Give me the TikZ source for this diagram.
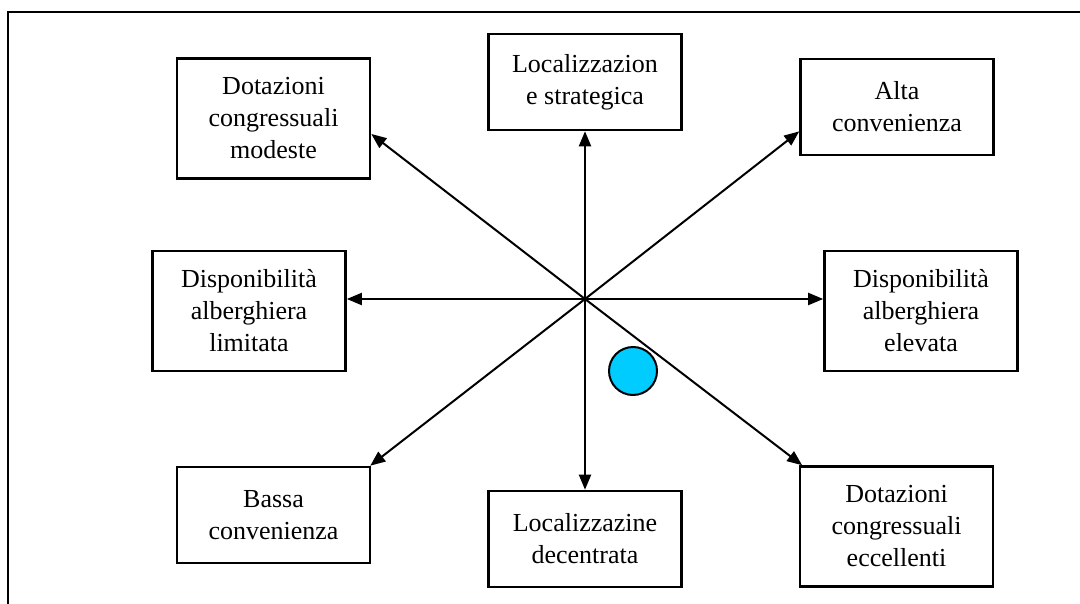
\documentclass[tikz,border=0pt]{standalone}
\usepackage{fontspec}
\setmainfont{Liberation Serif}
\usepackage{tikz}
\usepackage{xcolor}
\usetikzlibrary{arrows.meta}

\definecolor{dotblue}{RGB}{0,204,255}

\begin{document}
\begin{tikzpicture}[x=0.5pt,y=-0.5pt,->,>={Triangle[length=7.5pt,width=6pt]},line width=1pt,
                    main node/.style={rectangle,draw,line width=1.3pt,align=center,
                      minimum width=96.5pt,font=\fontsize{13}{16}\selectfont},
                    short node/.style={main node,minimum height=48pt},
                    tall node/.style={main node,minimum height=60pt}]

  \useasboundingbox (0,0) rectangle (1080,604);
  \draw[-,line width=1.3pt] (8,604) -- (8,12) -- (1080,12);

  \coordinate (c) at (585,299);
  \node[short node] (strat) at (585,82) {Localizzazion\\e strategica};
  \node[short node] (decent) at (585,539) {Localizzazine\\decentrata};
  \node[tall node] (modeste) at (273.5,118.5) {Dotazioni\\congressuali\\modeste};
  \node[short node] (alta) at (897,107) {Alta\\convenienza};
  \node[tall node] (limit) at (249,311) {Disponibilità\\alberghiera\\limitata};
  \node[tall node] (elev) at (921,311) {Disponibilità\\alberghiera\\elevata};
  \node[short node] (bassa) at (273.5,515) {Bassa\\convenienza};
  \node[tall node] (eccel) at (896.5,526.5) {Dotazioni\\congressuali\\eccellenti};

  \path (c) edge (strat.south)
            edge (decent.north)
            edge (limit.east |- c)
            edge (elev.west |- c)
            edge (modeste.351.5)
            edge (alta.194.6)
            edge (bassa.27)
            edge (eccel.147.7);

  \node[circle,draw,fill=dotblue,minimum size=24pt,inner sep=0pt] (dot) at (633,371) {};
\end{tikzpicture}
\end{document}
